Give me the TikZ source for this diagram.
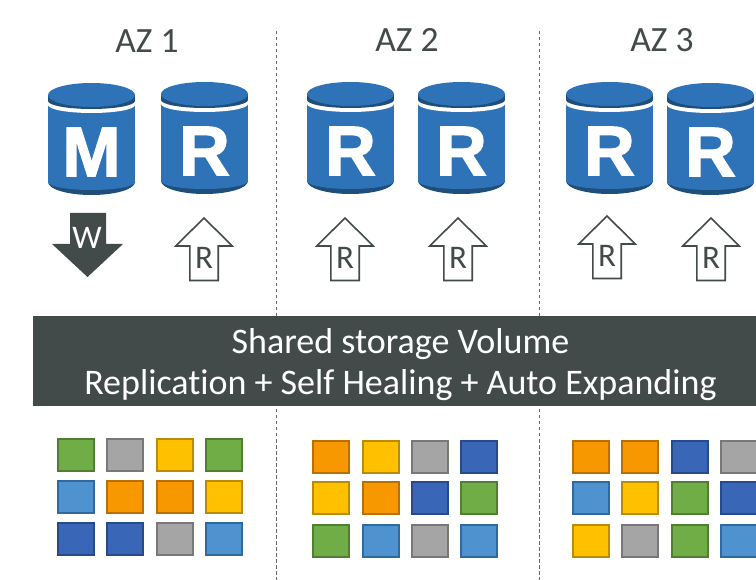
\documentclass[tikz,border=0pt]{standalone}
\usepackage{fontspec}
\setmainfont[Ligatures=NoCommon]{Carlito}
\newfontfamily\iconfont[FakeBold=2]{Liberation Sans}
\usepackage{xcolor}
\definecolor{dbblue}{HTML}{2E73B8}
\definecolor{dbdark}{HTML}{1F4E79}
\definecolor{slate}{HTML}{434A4A}
\definecolor{tG}{HTML}{70AD47}\definecolor{lG}{HTML}{507E32}
\definecolor{tA}{HTML}{A5A5A5}\definecolor{lA}{HTML}{787878}
\definecolor{tY}{HTML}{FFC000}\definecolor{lY}{HTML}{BC8C00}
\definecolor{tB}{HTML}{4E92D0}\definecolor{lB}{HTML}{2F6A9E}
\definecolor{tO}{HTML}{F79800}\definecolor{lO}{HTML}{B97000}
\definecolor{tD}{HTML}{3A66B8}\definecolor{lD}{HTML}{274A8A}
\tikzset{
  azlabel/.style={text=slate, font=\fontsize{35.5}{42}\selectfont},
  arrlabel/.style={inner sep=0pt, font=\fontsize{33}{36}\selectfont},
  dblabel/.style={inner sep=0pt, text=white, font=\iconfont\bfseries\fontsize{70}{70}\selectfont},
  tile/.style={draw=l#1, fill=t#1, line width=1.6pt, minimum width=36.5pt, minimum height=32pt, inner sep=0pt},
  divider/.style={dash pattern=on 3.5pt off 2.5pt, line width=.9pt, draw=black!60}
}
% database drum: left edge, top edge, letter, node name
\newcommand{\drum}[4]{
  \begin{scope}[shift={(#1,#2)}]
    \fill[dbdark] (0,90) rectangle (87,99);
    \fill[dbdark] (43.5,99) ellipse (43.5 and 13);
    \fill[dbblue] (0,12) rectangle (87,99);
    \fill[dbblue] (43.5,99) ellipse (43.5 and 8);
    \fill[white] (0,12) rectangle (87,22);
    \fill[white] (43.5,22) ellipse (43.5 and 8);
    \fill[dbdark] (0,12) rectangle (87,18);
    \fill[dbdark] (43.5,18) ellipse (43.5 and 8);
    \fill[dbblue] (43.5,12) ellipse (43.5 and 12);
    \node[dblabel] (#4) at (43.5,69) {#3};
  \end{scope}
}
% read arrow: centre x, tip y, node name
\newcommand{\readarr}[3]{
  \begin{scope}[shift={(#1,#2)}]
    \draw[draw=slate, fill=white, line width=1.6pt, line join=miter]
      (0,1) -- (28.3,29) -- (14.2,29) -- (14.2,63.5) -- (-14.2,63.5) -- (-14.2,29) -- (-28.3,29) -- cycle;
    \node[arrlabel, text=slate] (#3) at (0,41) {R};
  \end{scope}
}
\begin{document}
\begin{tikzpicture}[x=1pt,y=-1pt]
  \useasboundingbox (0,0) rectangle (756,580);
  \fill[white] (0,0) rectangle (756,580);
  \draw[divider] (276.5,31) -- (276.5,580);
  \draw[divider] (539.5,31) -- (539.5,580);
  \node[azlabel] (az1) at (147,41) {AZ 1};
  \node[azlabel] (az2) at (407,40) {AZ 2};
  \node[azlabel] (az3) at (662,40) {AZ 3};
  \drum{48}{83}{M}{dbm}
  \drum{161}{82}{R}{dbra}
  \drum{307}{82}{R}{dbrb}
  \drum{418}{82}{R}{dbrc}
  \drum{566}{82}{R}{dbrd}
  \drum{667}{83}{R}{dbre}
  \fill[slate] (70,213) -- (106,213) -- (106,244) -- (123,244) -- (87.5,277) -- (52,244) -- (70,244) -- cycle;
  \node[arrlabel, text=white] (wlab) at (87,238) {W};
  \readarr{204}{217}{rlaba}
  \readarr{345}{217}{rlabb}
  \readarr{458}{217}{rlabc}
  \readarr{607}{215}{rlabd}
  \readarr{711}{217}{rlabe}
  \node[fill=slate, inner sep=0pt, minimum width=723pt, minimum height=90pt] (volume) at (394.5,361) {};
  \node[text=white, inner sep=0pt, align=center, font=\fontsize{36}{41}\selectfont] (voltext) at (400.5,365)
    {Shared storage Volume\\Replication + Self Healing + Auto Expanding};
  % storage blocks
  \foreach \c/\r/\x/\y in {G/a/76/455, A/b/125/455, Y/c/175/455, G/d/224/455,
                           B/e/76/497, O/f/125/497, O/g/175/497, Y/h/224/497,
                           D/i/76/539, D/j/125/539, A/k/175/539, B/l/224/539,
                           O/m/331/457, Y/n/381/457, A/o/430/457, D/p/479/457,
                           Y/q/331/498, O/r/381/498, D/s/430/498, G/t/479/498,
                           G/u/331/541, B/v/381/541, A/w/430/541, B/x/479/541,
                           O/y/591/457, O/z/640/457, D/aa/690/457, A/ab/739/457,
                           B/ac/591/498, Y/ad/640/498, G/ae/690/498, D/af/739/498,
                           Y/ag/591/541, A/ah/640/541, G/ai/690/541, B/aj/739/541}
    \node[tile=\c] (blk\r) at (\x,\y) {};
\end{tikzpicture}
\end{document}
